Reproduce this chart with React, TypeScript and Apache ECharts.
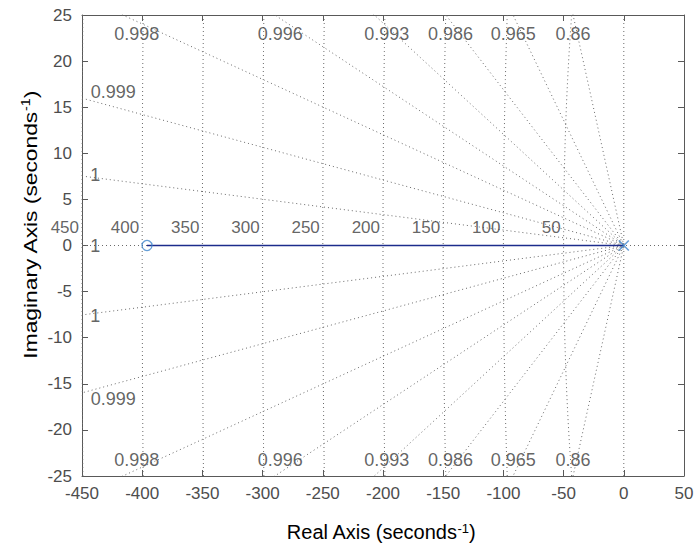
import React, { useEffect, useRef } from "react";
import * as echarts from "echarts";

// Axis ranges / ticks
const xMin = -450;
const xMax = 50;
const xStep = 50;
const yMin = -25;
const yMax = 25;
const yStep = 5;

// Root locus: one zero and one pole on the real axis
const zeroPos = [-396, 0];
const polePos = [0, 0];
const locusReal = [-396, 0];

// s-grid: natural frequency circles
const naturalFreqs = [50, 100, 150, 200, 250, 300, 350, 400, 450];
const naturalFreqLabels = ["50", "100", "150", "200", "250", "300", "350", "400", "450"];

// s-grid: damping ratio rays (precise values read from the ray slopes)
const dampingRatios = [0.99986, 0.99937, 0.9982, 0.9963, 0.9928, 0.986, 0.965, 0.86];

// damping labels along top / bottom edges
const dampTopText = ["0.998", "0.996", "0.993", "0.986", "0.965", "0.86"];
const dampTopX = [-404.5, -285.4, -196.9, -143.9, -91.8, -42.2];
const dampTopY = 22.9;
const dampBottomY = -23.3;
// damping labels along the left edge
const dampLeftText = ["0.999", "1", "1"];
const dampLeftX = [-424, -439, -439];
const dampLeftY = [16.6, 7.7, 0];

const FONT = "'Liberation Sans', Arial, Helvetica, sans-serif";
const GRIDCOL = "#6a6a6a";

export default function App() {
  const ref = useRef<HTMLDivElement>(null);

  useEffect(() => {
    if (!ref.current) return;
    const chart = echarts.init(ref.current, undefined, { renderer: "svg" });

    const dotted = { color: GRIDCOL, width: 1, type: [1, 3] as any };
    const series: any[] = [];

    // natural frequency circles
    naturalFreqs.forEach((wn) => {
      const pts: number[][] = [];
      for (let k = 0; k <= 100; k++) {
        const y = yMin + ((yMax - yMin) * k) / 100;
        pts.push([-Math.sqrt(wn * wn - y * y), y]);
      }
      series.push({
        type: "line",
        data: pts,
        showSymbol: false,
        silent: true,
        clip: true,
        lineStyle: dotted,
        z: 1,
      });
    });

    // damping rays
    dampingRatios.forEach((z) => {
      const s = Math.sqrt(1 - z * z) / z;
      series.push({
        type: "line",
        data: [
          [xMin, -xMin * s],
          [0, 0],
          [xMin, xMin * s],
        ],
        showSymbol: false,
        silent: true,
        clip: true,
        lineStyle: dotted,
        z: 1,
      });
    });

    // zeta = 1 (real axis) and zeta = 0 (imaginary axis)
    series.push({
      type: "line",
      data: [
        [xMin, 0],
        [xMax, 0],
      ],
      showSymbol: false,
      silent: true,
      lineStyle: dotted,
      z: 1,
    });
    series.push({
      type: "line",
      data: [
        [0, yMin],
        [0, yMax],
      ],
      showSymbol: false,
      silent: true,
      lineStyle: dotted,
      z: 1,
    });

    // natural frequency labels
    series.push({
      type: "scatter",
      symbolSize: 0,
      silent: true,
      clip: false,
      data: naturalFreqs.map((wn, i) => ({ value: [-wn, 0], name: naturalFreqLabels[i] })),
      label: {
        show: true,
        position: "inside",
        formatter: "{b}",
        align: "right",
        verticalAlign: "middle",
        offset: [-3, -18],
        fontFamily: FONT,
        fontSize: 17,
        color: "#3c3c3c",
      },
      z: 3,
    });

    // damping labels
    const dampData: any[] = [];
    dampTopText.forEach((t, i) => {
      dampData.push({ value: [dampTopX[i], dampTopY], name: t });
      dampData.push({ value: [dampTopX[i], dampBottomY], name: t });
    });
    dampLeftText.forEach((t, i) => {
      dampData.push({ value: [dampLeftX[i], dampLeftY[i]], name: t });
      if (dampLeftY[i] !== 0) dampData.push({ value: [dampLeftX[i], -dampLeftY[i]], name: t });
    });
    series.push({
      type: "scatter",
      symbolSize: 0,
      silent: true,
      clip: false,
      data: dampData,
      label: {
        show: true,
        position: "inside",
        formatter: "{b}",
        align: "center",
        verticalAlign: "middle",
        fontFamily: FONT,
        fontSize: 18,
        color: "#3c3c3c",
      },
      z: 3,
    });

    // locus branch
    series.push({
      type: "line",
      data: locusReal.map((x) => [x, 0]),
      showSymbol: false,
      silent: true,
      lineStyle: { color: "#1c2c8c", width: 1.5 },
      z: 4,
    });
    // zero
    series.push({
      type: "scatter",
      data: [zeroPos],
      symbol: "circle",
      symbolSize: 10,
      itemStyle: { color: "rgba(255,255,255,0)", borderColor: "#3f86cc", borderWidth: 1.3 },
      z: 5,
    });
    // pole
    series.push({
      type: "scatter",
      data: [polePos],
      symbol: "path://M0,0L10,10M10,0L0,10",
      symbolSize: 10,
      itemStyle: { color: "none", borderColor: "#3f86cc", borderWidth: 1.5 },
      z: 5,
    });

    const axisLine = { show: true, onZero: false, lineStyle: { color: "#595959", width: 1 } };
    const tick = { show: true, inside: true, length: 6, lineStyle: { color: "#595959" } };

    chart.setOption({
      animation: false,
      backgroundColor: "#ffffff",
      grid: { left: 82, top: 15, width: 602, height: 461, containLabel: false },
      xAxis: [
        {
          type: "value",
          min: xMin,
          max: xMax,
          interval: xStep,
          position: "bottom",
          axisLine,
          axisTick: tick,
          splitLine: { show: false },
          axisLabel: { fontFamily: FONT, fontSize: 17, color: "#4d4d4d", margin: 9 },
        },
        {
          type: "value",
          min: xMin,
          max: xMax,
          interval: xStep,
          position: "top",
          axisLine,
          axisTick: tick,
          splitLine: { show: false },
          axisLabel: { show: false },
        },
      ],
      yAxis: [
        {
          type: "value",
          min: yMin,
          max: yMax,
          interval: yStep,
          position: "left",
          axisLine,
          axisTick: tick,
          splitLine: { show: false },
          axisLabel: { fontFamily: FONT, fontSize: 17, color: "#4d4d4d", margin: 10 },
        },
        {
          type: "value",
          min: yMin,
          max: yMax,
          interval: yStep,
          position: "right",
          axisLine,
          axisTick: tick,
          splitLine: { show: false },
          axisLabel: { show: false },
        },
      ],
      series,
      graphic: [
        {
          type: "text",
          x: 381,
          y: 532,
          silent: true,
          style: {
            text: "{a|Real Axis (seconds}{s|-1}{a|)}",
            align: "center",
            verticalAlign: "middle",
            rich: {
              a: { fontFamily: FONT, fontSize: 20, color: "#262626" },
              s: { fontFamily: FONT, fontSize: 13, color: "#262626", verticalAlign: "top", padding: [0, 0, 8, 0] },
            },
          },
        },
        {
          type: "text",
          x: 30,
          y: 225,
          rotation: Math.PI / 2,
          scaleX: 1.2,
          silent: true,
          style: {
            text: "{a|Imaginary Axis (seconds}{s|-1}{a|)}",
            align: "center",
            verticalAlign: "middle",
            rich: {
              a: { fontFamily: FONT, fontSize: 19, color: "#262626" },
              s: { fontFamily: FONT, fontSize: 12, color: "#262626", verticalAlign: "top", padding: [0, 0, 8, 0] },
            },
          },
        },
      ],
    });

    return () => chart.dispose();
  }, []);

  return (
    <div
      ref={ref}
      style={{ position: "absolute", left: 0, top: 0, width: 698, height: 545, background: "#fff" }}
    />
  );
}
